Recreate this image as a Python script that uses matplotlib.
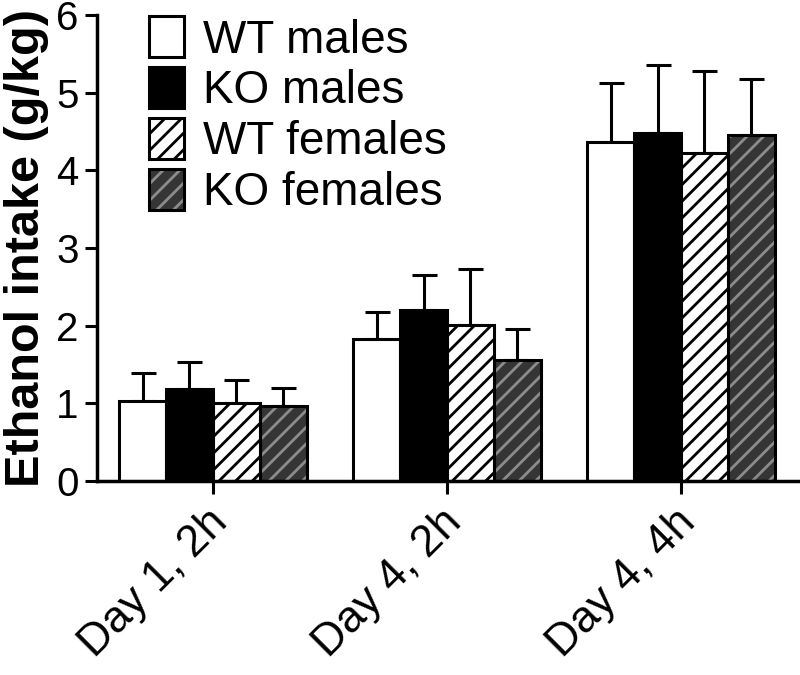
import numpy as np
import matplotlib
matplotlib.use("Agg")
from matplotlib import pyplot as plt
from matplotlib import transforms

plt.rcParams['font.family'] = ['Liberation Sans', 'DejaVu Sans']
plt.rcParams['hatch.linewidth'] = 2.0

groups = ["Day 1, 2h", "Day 4, 2h", "Day 4, 4h"]
series = ["WT males", "KO males", "WT females", "KO females"]

wt_males = [1.03, 1.83, 4.37]
ko_males = [1.18, 2.20, 4.48]
wt_females = [1.01, 2.01, 4.22]
ko_females = [0.97, 1.56, 4.45]

wt_males_sem = [0.36, 0.35, 0.75]
ko_males_sem = [0.35, 0.45, 0.88]
wt_females_sem = [0.29, 0.72, 1.06]
ko_females_sem = [0.23, 0.40, 0.72]

means = [wt_males, ko_males, wt_females, ko_females]
sems = [wt_males_sem, ko_males_sem, wt_females_sem, ko_females_sem]

# face, hatch colour, hatch
styles = [
    ("white", "black", None),
    ("black", "black", None),
    ("white", "black", "//"),
    ("#353535", "#8c8c8c", "//"),
]

fig = plt.figure(figsize=(8, 6.75), dpi=100)
ax = fig.add_axes([0.121, 0.2874, 0.8765, 0.6904])

centers = np.arange(len(groups)) * 5.0
offsets = [-1.5, -0.5, 0.5, 1.5]
handles = []
for vals, err, (fc, hc, hatch), off in zip(means, sems, styles, offsets):
    x = centers + off
    ax.errorbar(x, vals, yerr=[np.zeros(len(vals)), err], fmt='none',
                ecolor='black', elinewidth=2.2, capsize=9, capthick=2.2,
                zorder=1)
    under = ax.bar(x, vals, width=1.0, color=fc, edgecolor=hc, hatch=hatch,
                   linewidth=0, zorder=2)
    edge = ax.bar(x, vals, width=1.0, fill=False, edgecolor='black',
                  linewidth=2.2, zorder=3)
    handles.append((under[0], edge[0]))

ax.set_xlim(-2.48, 12.5)
ax.set_ylim(0, 6)
ax.set_yticks(range(0, 7))
ax.set_xticks(centers)
ax.set_xticklabels(groups, rotation=45, ha='right', va='center',
                   rotation_mode='anchor')
ax.tick_params(axis='both', labelsize=29, width=2.2, length=9, pad=4)
ax.tick_params(axis='x', labelsize=32, pad=16)
shift = transforms.ScaledTranslation(6 / 72, 0, fig.dpi_scale_trans)
for lab in ax.get_xticklabels():
    lab.set_transform(lab.get_transform() + shift)

for s in ['top', 'right']:
    ax.spines[s].set_visible(False)
for s in ['left', 'bottom']:
    ax.spines[s].set_linewidth(2.5)

ax.set_ylabel("Ethanol intake (g/kg)", fontsize=35, fontweight='bold')
ax.yaxis.set_label_coords(-0.068, 0.5)

ax.legend(handles, series, loc='upper left', bbox_to_anchor=(0.074, 0.997),
          frameon=False, fontsize=33, handlelength=0.78, handleheight=1.0,
          handletextpad=0.4, labelspacing=0.1, borderpad=0, borderaxespad=0)

fig.savefig("out.png", dpi=100)
